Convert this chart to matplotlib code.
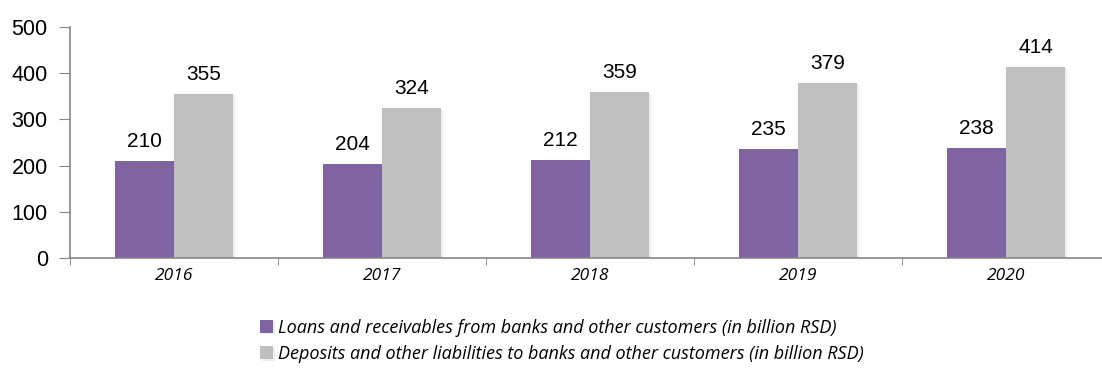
import numpy as np
import matplotlib.pyplot as plt
import matplotlib.patheffects as pe

# Data
years = ['2016', '2017', '2018', '2019', '2020']
loans = [210, 204, 212, 235, 238]
deposits = [355, 324, 359, 379, 414]
loans_label = 'Loans and receivables from banks and other customers (in billion RSD)'
deposits_label = 'Deposits and other liabilities to banks and other customers (in billion RSD)'

PURPLE = '#8064A2'
GRAY = '#BFBFBF'
AXIS = '#868686'

fig = plt.figure(figsize=(11.02, 3.74), dpi=100)
ax = fig.add_axes([70 / 1102, 116 / 374, 1040 / 1102, 231 / 374])

x = np.arange(len(years))
w = 0.284
shadow = [pe.SimplePatchShadow(offset=(1.5, -1), shadow_rgbFace='#aaaaaa', alpha=0.2), pe.Normal()]
b1 = ax.bar(x - w / 2, loans, w, color=PURPLE, label=loans_label, path_effects=shadow)
b2 = ax.bar(x + w / 2, deposits, w, color=GRAY, label=deposits_label, path_effects=shadow)

for xi, v in zip(x - w / 2, loans):
    ax.text(xi, v + 22, str(v), ha='center', va='bottom', fontsize=15, family='Liberation Sans')
for xi, v in zip(x + w / 2, deposits):
    ax.text(xi, v + 22, str(v), ha='center', va='bottom', fontsize=15, family='Liberation Sans')

ax.set_xlim(-0.5, len(years) - 0.5)
ax.set_ylim(0, 500)
ax.set_yticks([0, 100, 200, 300, 400, 500])
ax.set_xticks(x)
ax.set_xticklabels(years, style='italic', fontsize=12.5, family='Open Sans')
ax.set_xticks(np.arange(len(years) + 1) - 0.5, minor=True)
ax.tick_params(axis='x', which='major', length=0, pad=7)
ax.tick_params(axis='x', which='minor', length=5, color=AXIS, direction='out')
ax.tick_params(axis='y', length=8, color=AXIS, direction='out', pad=8)
for lbl in ax.get_yticklabels():
    lbl.set_fontsize(15.5)
    lbl.set_family('Liberation Sans')

for s in ['top', 'right']:
    ax.spines[s].set_visible(False)
for s in ['left', 'bottom']:
    ax.spines[s].set_color(AXIS)
    ax.spines[s].set_linewidth(1.2)

leg = fig.legend(handles=[b1, b2], loc='upper left', bbox_to_anchor=(260 / 1102, 1 - 319 / 374),
                 frameon=False, prop={'family': 'Open Sans', 'style': 'italic', 'size': 13},
                 handlelength=0.7, handleheight=0.7, handletextpad=0.3, labelspacing=0.45,
                 borderaxespad=0, borderpad=0)

fig.savefig('out.png', dpi=100)
